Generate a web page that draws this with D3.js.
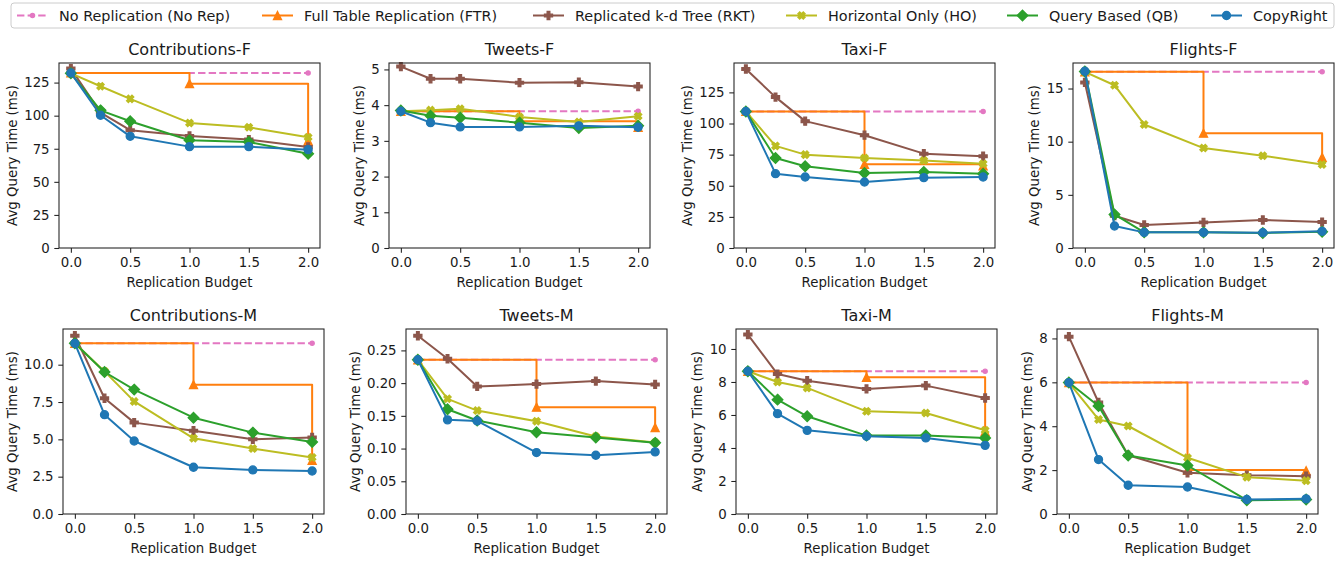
<!DOCTYPE html>
<html>
<head>
<meta charset="utf-8">
<script src="https://cdn.jsdelivr.net/npm/d3@7"></script>
<style>
  html, body { margin: 0; padding: 0; background: #fff; }
  svg { display: block; font-family: "DejaVu Sans", sans-serif; }
</style>
</head>
<body>
<svg id="chart" width="1344" height="561"></svg>
<script>
// ---- data ----
const panelTitles = ["Contributions-F", "Tweets-F", "Taxi-F", "Flights-F",
                     "Contributions-M", "Tweets-M", "Taxi-M", "Flights-M"];

const budgets = [0, 0.25, 0.5, 1.0, 1.5, 2.0];
const ftrBudgets = [0, 1.0, 2.0];
const noRepBudgets = [0, 2.0];
const xTicks = [0, 0.5, 1.0, 1.5, 2.0];

const yMax = [139.8, 5.18, 148.6, 17.4, 12.39, 0.2827, 11.21, 8.43];
const yTicks = [
  [0, 25, 50, 75, 100, 125],
  [0, 1, 2, 3, 4, 5],
  [0, 25, 50, 75, 100, 125],
  [0, 5, 10, 15],
  [0, 2.5, 5.0, 7.5, 10.0],
  [0, 0.05, 0.10, 0.15, 0.20, 0.25],
  [0, 2, 4, 6, 8, 10],
  [0, 2, 4, 6, 8]
];
const yTickFormats = ["d", "d", "d", "d", ".1f", ".2f", "d", "d"];

// No Replication: constant per dataset
const noRep = [132.3, 3.83, 109.7, 16.57, 11.43, 0.2357, 8.65, 5.99];

// Full Table Replication at budgets 0, 1, 2
const ftr = [
  [132.3, 124.2, 81.0],
  [3.83, 3.55, 3.38],
  [109.7, 67.2, 66.0],
  [16.57, 10.8, 8.52],
  [11.43, 8.66, 3.6],
  [0.2357, 0.1633, 0.1321],
  [8.65, 8.28, 5.0],
  [5.99, 2.0, 1.97]
];

// Replicated k-d Tree
const rkt = [
  [135.6, 102.3, 89.0, 84.7, 81.9, 76.4],
  [5.08, 4.74, 4.74, 4.63, 4.64, 4.52],
  [143.8, 121.2, 101.9, 90.6, 75.8, 73.7],
  [15.57, 3.04, 2.16, 2.41, 2.63, 2.44],
  [11.94, 7.75, 6.12, 5.58, 5.0, 5.13],
  [0.2724, 0.2372, 0.1949, 0.1985, 0.2031, 0.1980],
  [10.87, 8.48, 8.08, 7.58, 7.78, 7.03],
  [8.08, 5.08, 2.68, 1.88, 1.77, 1.72]
];

// Horizontal Only
const ho = [
  [132.0, 122.2, 112.7, 94.5, 91.2, 83.7],
  [3.83, 3.86, 3.90, 3.67, 3.53, 3.69],
  [109.7, 82.0, 75.0, 72.3, 70.2, 67.7],
  [16.57, 15.31, 11.62, 9.40, 8.68, 7.86],
  [11.43, 9.55, 7.54, 5.07, 4.38, 3.79],
  [0.2357, 0.1760, 0.1580, 0.1418, 0.1184, 0.1092],
  [8.65, 8.00, 7.64, 6.22, 6.12, 5.07],
  [5.99, 4.31, 4.01, 2.56, 1.68, 1.52]
];

// Query Based
const qb = [
  [132.0, 104.0, 95.8, 81.4, 80.1, 71.3],
  [3.85, 3.70, 3.65, 3.51, 3.36, 3.42],
  [109.7, 72.3, 65.6, 60.2, 61.0, 59.7],
  [16.60, 3.16, 1.47, 1.47, 1.41, 1.53],
  [11.43, 9.51, 8.33, 6.45, 5.45, 4.82],
  [0.2357, 0.1600, 0.1429, 0.1250, 0.1168, 0.1087],
  [8.65, 6.93, 5.92, 4.75, 4.75, 4.61],
  [5.99, 4.92, 2.67, 2.21, 0.63, 0.66]
];

// CopyRight
const copyRight = [
  [132.3, 100.3, 84.4, 76.6, 76.6, 74.3],
  [3.83, 3.51, 3.39, 3.39, 3.42, 3.38],
  [109.7, 59.7, 57.0, 53.0, 56.5, 57.0],
  [16.63, 2.07, 1.47, 1.47, 1.44, 1.57],
  [11.43, 6.65, 4.89, 3.13, 2.95, 2.88],
  [0.2357, 0.1439, 0.1423, 0.0939, 0.0898, 0.0949],
  [8.65, 6.08, 5.07, 4.71, 4.61, 4.16],
  [5.99, 2.48, 1.31, 1.23, 0.66, 0.69]
];

const seriesNames = ["No Replication (No Rep)", "Full Table Replication (FTR)",
  "Replicated k-d Tree (RKT)", "Horizontal Only (HO)", "Query Based (QB)", "CopyRight"];

// ---- styles ----
const seriesStyles = [
  { color: "#e377c2", marker: "point", dash: "7.4,3.2", curve: d3.curveLinear },
  { color: "#ff7f0e", marker: "triangle", dash: null, curve: d3.curveStepAfter },
  { color: "#8c564b", marker: "plus", dash: null, curve: d3.curveLinear },
  { color: "#bcbd22", marker: "x", dash: null, curve: d3.curveLinear },
  { color: "#2ca02c", marker: "diamond", dash: null, curve: d3.curveLinear },
  { color: "#1f77b4", marker: "circle", dash: null, curve: d3.curveLinear }
];

// axes rectangles (left, top) with shared size
const panelBoxes = [
  { x: 59, y: 63 }, { x: 389, y: 63 }, { x: 734, y: 63 }, { x: 1073, y: 63 },
  { x: 63, y: 329 }, { x: 406, y: 329 }, { x: 736, y: 329 }, { x: 1057, y: 329 }
];
const boxW = 261, boxH = 185;
const textColor = "#1a1a1a";
const tickLen = 4.7, tickPad = 4.7;

function markerPath(kind) {
  const s = 4; // half extent for size-6pt markers
  switch (kind) {
    case "circle": return d3.symbol(d3.symbolCircle, Math.PI * s * s)();
    case "point": return d3.symbol(d3.symbolCircle, Math.PI * 2.1 * 2.1)();
    case "triangle": return `M0,${-s}L${s},${s}L${-s},${s}Z`;
    case "diamond": { const r = 5.3; return `M0,${-r}L${r},0L0,${r}L${-r},0Z`; }
    case "plus": {
      const a = s / 3;
      return `M${-a},${-s}H${a}V${-a}H${s}V${a}H${a}V${s}H${-a}V${a}H${-s}V${-a}H${-a}Z`;
    }
    case "x": {
      const a = s / 3, b = s;
      const pts = [[-a,-b],[a,-b],[a,-a],[b,-a],[b,a],[a,a],[a,b],[-a,b],[-a,a],[-b,a],[-b,-a],[-a,-a]];
      const c = Math.SQRT1_2;
      return "M" + pts.map(([x, y]) => [(x - y) * c * 0.95, (x + y) * c * 0.95].map(v => v.toFixed(2)).join(",")).join("L") + "Z";
    }
  }
}

function drawMarker(g, kind, color, x, y) {
  g.append("path")
    .attr("d", markerPath(kind))
    .attr("transform", `translate(${x},${y})`)
    .attr("fill", color)
    .attr("stroke", color)
    .attr("stroke-width", 1.33)
    .attr("stroke-linejoin", "miter");
}

const svg = d3.select("#chart");

panelTitles.forEach((title, i) => {
  const box = panelBoxes[i];
  const g = svg.append("g").attr("transform", `translate(${box.x},${box.y})`);

  const x = d3.scaleLinear().domain([-0.1, 2.1]).range([0, boxW]);
  const y = d3.scaleLinear().domain([0, yMax[i]]).range([boxH, 0]);

  // series in legend order so later ones sit on top
  const seriesData = [
    noRepBudgets.map(b => [b, noRep[i]]),
    ftrBudgets.map((b, k) => [b, ftr[i][k]]),
    budgets.map((b, k) => [b, rkt[i][k]]),
    budgets.map((b, k) => [b, ho[i][k]]),
    budgets.map((b, k) => [b, qb[i][k]]),
    budgets.map((b, k) => [b, copyRight[i][k]])
  ];

  const plot = g.append("g");
  seriesData.forEach((pts, s) => {
    const st = seriesStyles[s];
    const line = d3.line().x(d => x(d[0])).y(d => y(d[1])).curve(st.curve);
    plot.append("path")
      .attr("d", line(pts))
      .attr("fill", "none")
      .attr("stroke", st.color)
      .attr("stroke-width", 2)
      .attr("stroke-linejoin", "round")
      .attr("stroke-dasharray", st.dash);
    pts.forEach(p => drawMarker(plot, st.marker, st.color, x(p[0]), y(p[1])));
  });

  // frame
  g.append("rect").attr("x", 0).attr("y", 0).attr("width", boxW).attr("height", boxH)
    .attr("fill", "none").attr("stroke", "#222").attr("stroke-width", 1.07);

  // x axis
  const xAxis = d3.axisBottom(x).tickValues(xTicks).tickFormat(d3.format(".1f"))
    .tickSizeInner(tickLen).tickSizeOuter(0).tickPadding(tickPad);
  const gx = g.append("g").attr("transform", `translate(0,${boxH})`).call(xAxis);
  gx.select(".domain").remove();
  gx.selectAll(".tick line").attr("stroke", "#222").attr("stroke-width", 1.07);
  gx.selectAll(".tick text").attr("fill", textColor)
    .style("font-size", "13.33px").style("font-family", "DejaVu Sans");

  // y axis
  const yAxis = d3.axisLeft(y).tickValues(yTicks[i]).tickFormat(d3.format(yTickFormats[i]))
    .tickSizeInner(tickLen).tickSizeOuter(0).tickPadding(tickPad);
  const gy = g.append("g").call(yAxis);
  gy.select(".domain").remove();
  gy.selectAll(".tick line").attr("stroke", "#222").attr("stroke-width", 1.07);
  gy.selectAll(".tick text").attr("fill", textColor)
    .style("font-size", "13.33px").style("font-family", "DejaVu Sans");

  let maxW = 0;
  gy.selectAll(".tick text").each(function () { maxW = Math.max(maxW, this.getComputedTextLength()); });

  // title
  g.append("text").attr("x", boxW / 2).attr("y", -8)
    .attr("text-anchor", "middle").attr("fill", textColor)
    .style("font-size", "16px").text(title);

  // axis labels
  g.append("text").attr("x", boxW / 2).attr("y", boxH + 38.5)
    .attr("text-anchor", "middle").attr("fill", textColor)
    .style("font-size", "13.33px").text("Replication Budget");

  const ly = -(tickLen + tickPad + maxW + 5.3 + 6.5);
  g.append("text")
    .attr("transform", `translate(${ly},${boxH / 2}) rotate(-90)`)
    .attr("text-anchor", "middle").attr("dominant-baseline", "central")
    .attr("fill", textColor)
    .style("font-size", "13.33px").text("Avg Query Time (ms)");
});

// ---- legend ----
const legendX = [17, 262, 533, 786, 1007, 1211];
const legend = svg.append("g");
legend.append("rect").attr("x", 11).attr("y", 3).attr("width", 1323).attr("height", 25)
  .attr("rx", 3).attr("fill", "#fff").attr("fill-opacity", 0.8)
  .attr("stroke", "#cccccc").attr("stroke-width", 1);
const ly0 = 15.5;
seriesNames.forEach((name, s) => {
  const st = seriesStyles[s];
  const x0 = legendX[s];
  legend.append("line").attr("x1", x0).attr("x2", x0 + 31).attr("y1", ly0).attr("y2", ly0)
    .attr("stroke", st.color).attr("stroke-width", 2).attr("stroke-dasharray", st.dash);
  drawMarker(legend, st.marker, st.color, x0 + 15.5, ly0);
  legend.append("text").attr("x", x0 + 42).attr("y", ly0)
    .attr("dominant-baseline", "central").attr("fill", textColor)
    .style("font-size", "14.4px").text(name);
});
</script>
</body>
</html>
